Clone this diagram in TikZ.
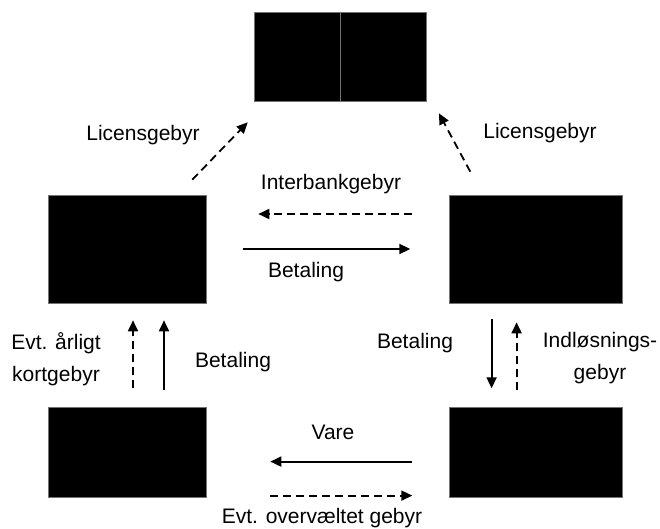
\documentclass[tikz,border=0pt]{standalone}
\usepackage{fontspec}
\setmainfont{Liberation Sans}
\usetikzlibrary{arrows.meta,positioning}

\begin{document}
\begin{tikzpicture}[
  x=1pt, y=-1pt,
  box/.style={draw=black!55, fill=black, line width=0.6pt, inner sep=0pt},
  lab/.style={font=\fontsize{21}{32}\selectfont, align=center, inner sep=0pt},
  arr/.style={-{Triangle[length=11pt, width=10pt]}, line width=1.8pt},
  darr/.style={arr, dash pattern=on 8pt off 5pt}
]
\useasboundingbox (0,0) rectangle (660,529);
% boxes
\node[box, minimum width=86pt, minimum height=89pt] (t1) at (297,56.5) {};
\node[box, minimum width=86pt, minimum height=89pt, right=0pt of t1] (t2) {};
\node[box, minimum width=158pt, minimum height=108pt] (lm) at (127,249) {};
\node[box, minimum width=173pt, minimum height=108pt, right=243pt of lm] (rm) {};
\node[box, minimum width=158pt, minimum height=90pt, below=104pt of lm] (lb) {};
\node[box, minimum width=173pt, minimum height=90pt, below=104pt of rm] (rb) {};
% arrows
\draw[darr] ([xshift=-14pt, yshift=15pt]lm.north east) -- ([xshift=-6pt, yshift=-21pt]t1.south west);
\draw[darr] ([xshift=21pt, yshift=23pt]rm.north west) -- ([xshift=12pt, yshift=-12pt]t2.south east);
\draw[darr, shorten <=37pt, shorten >=52pt] ([yshift=35pt]rm.west) -- ([yshift=35pt]lm.east);
\draw[arr, shorten <=37pt, shorten >=39pt] (lm) -- (rm);
\draw[darr, shorten <=19pt, shorten >=17pt] ([xshift=6pt]lb.north) -- ([xshift=6pt]lm.south);
\draw[arr, shorten <=17pt, shorten >=17pt] ([xshift=37pt]lb.north) -- ([xshift=37pt]lm.south);
\draw[arr, shorten <=16pt, shorten >=19pt] ([xshift=-44.5pt]rm.south) -- ([xshift=-44.5pt]rb.north);
\draw[darr, shorten <=17pt, shorten >=19pt] ([xshift=-19.5pt]rb.north) -- ([xshift=-19.5pt]rm.south);
\draw[arr, shorten <=37pt, shorten >=64pt] ([yshift=-9pt]rb.west) -- ([yshift=-9pt]lb.east);
\draw[darr, shorten <=64pt, shorten >=37pt] ([yshift=-43pt]lb.east) -- ([yshift=-43pt]rb.west);
% labels
\node[lab] (licl) at (143,135) {Licensgebyr};
\node[lab] (licr) at (540,133) {Licensgebyr};
\node[lab] (inter) at (331,184) {Interbankgebyr};
\node[lab] (bet1) at (306,272) {Betaling};
\node[lab] (aarl) at (56,359) {Evt. årligt\\kortgebyr};
\node[lab] (bet2) at (233,362) {Betaling};
\node[lab] (bet3) at (415,343) {Betaling};
\node[lab] (indl) at (600,358) {Indløsnings-\\gebyr};
\node[lab] (vare) at (333,432) {Vare};
\node[lab] (overv) at (322,518) {Evt. overvæltet gebyr};
\end{tikzpicture}
\end{document}
